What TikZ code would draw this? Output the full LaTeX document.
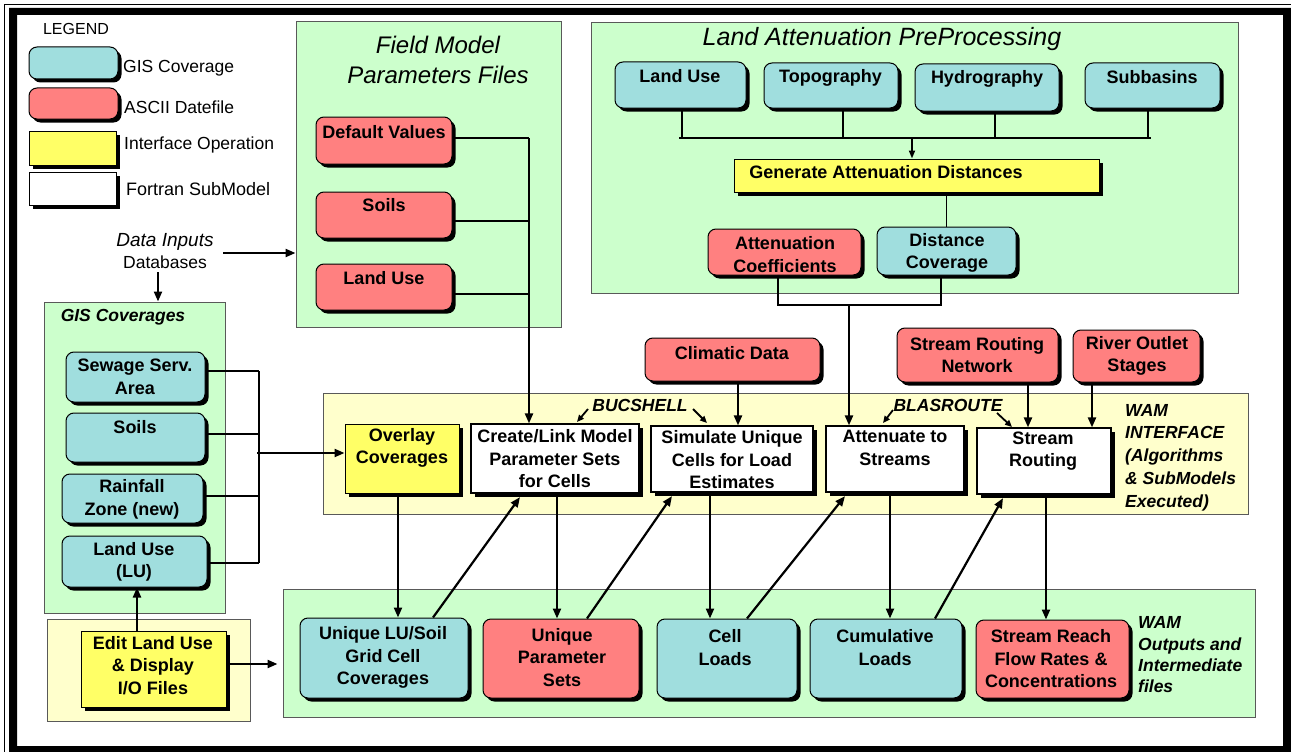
\documentclass[tikz,border=0pt]{standalone}
\usepackage{fontspec}
\setmainfont{Liberation Sans}
\usetikzlibrary{arrows.meta,shadows}
\definecolor{gisc}{RGB}{160,222,222}
\definecolor{asciic}{RGB}{255,128,128}
\definecolor{ifacec}{RGB}{255,255,102}
\definecolor{grpg}{RGB}{204,255,204}
\definecolor{grpy}{RGB}{255,255,204}
\newcommand\nf{\fontsize{18}{22.5}\selectfont\bfseries}
\newcommand\bif{\fontsize{17.5}{22.5}\selectfont\bfseries\itshape}
\tikzset{
 shad/.style={drop shadow={shadow xshift=3.5pt,shadow yshift=-3.5pt,opacity=1,fill=black}},
 gisbox/.style={draw=black,line width=1pt,fill=gisc,rounded corners=8pt,shad,inner sep=0},
 ascbox/.style={draw=black,line width=1pt,fill=asciic,rounded corners=8pt,shad,inner sep=0},
 ifbox/.style={draw=black,line width=1pt,fill=ifacec,shad,inner sep=0},
 fbox/.style={draw=black,line width=1.2pt,fill=white,shad,inner sep=0},
 grp/.style={draw=black!65,line width=1pt,fill=grpg,inner sep=0},
 grpyel/.style={draw=black!65,line width=1pt,fill=grpy,inner sep=0},
 txt/.style={font=\nf,align=center,inner sep=0},
 lt/.style={font=\fontsize{17.5}{21}\selectfont,anchor=west,inner sep=0},
 conn/.style={line width=1.2pt},
 arr/.style={line width=2.2pt,-{Triangle[length=10pt,width=8pt]}},
 sarr/.style={line width=1.8pt,-{Triangle[length=7pt,width=6pt]}},
 sz/.style 2 args={minimum width=#1pt,minimum height=#2pt},
}
\begin{document}
\begin{tikzpicture}[x=1pt,y=-1pt]
\useasboundingbox (0,0) rectangle (1291,752);
\clip (0,0) rectangle (1291,752);
\fill[white] (0,0) rectangle (1291,752);
\draw[line width=1.4pt] (4.6,760) -- (4.6,4.6) -- (1300,4.6);
\fill[black,even odd rule] (9,8) rectangle (1291,752) (17,15) rectangle (1283,746);

% ---------- legend
\node[font=\fontsize{16}{19}\selectfont,inner sep=0] (leg) at (76,29) {LEGEND};
\node[gisbox,sz={89}{32}] (lg1) at (73.5,63) {};
\node[lt] (lg1t) at (123,68) {GIS Coverage};
\node[ascbox,sz={89}{31}] (lg2) at (73.5,103.5) {};
\node[lt] (lg2t) at (124,107) {ASCII Datefile};
\node[ifbox,sz={87}{34}] (lg3) at (72.5,148) {};
\node[lt] (lg3t) at (124,145) {Interface Operation};
\node[fbox,line width=1pt,sz={87}{33}] (lg4) at (72.5,188.5) {};
\node[lt,font=\fontsize{18}{21}\selectfont] (lg4t) at (126,189) {Fortran SubModel};

% ---------- groups
\node[grp,sz={265}{305}] (fm) at (428.5,174.5) {};
\node[grp,sz={647}{270}] (la) at (914.5,158) {};
\node[grp,sz={181}{311}] (gis) at (134.5,457.5) {};
\node[grpyel,sz={925}{121}] (wi) at (785.5,453.5) {};
\node[grp,sz={972}{128}] (outg) at (769,653) {};
\node[grpyel,sz={203}{102}] (edg) at (148.5,670) {};

% ---------- field model
\node[font=\fontsize{24}{30}\selectfont\itshape,align=center,inner sep=0] (fmt) at (438,60) {Field Model\\Parameters Files};
\node[ascbox,sz={136}{47}] (dv) at (384,140.5) {};
\node[txt] (dvt) at (384,132) {Default Values};
\node[ascbox,sz={136}{46}] (fsoil) at (384,215) {};
\node[txt] (fsoilt) at (384,205) {Soils};
\node[ascbox,sz={136}{46}] (flu) at (384,287) {};
\node[txt] (flut) at (384,278) {Land Use};

% ---------- data inputs
\node[font=\fontsize{17.5}{22}\selectfont,align=center,inner sep=0] (din) at (165,251) {{\fontsize{19}{22}\selectfont\itshape Data Inputs}\\Databases};

% ---------- GIS coverages
\node[font=\bif,inner sep=0] (gist) at (123,317) {GIS Coverages};
\node[gisbox,sz={139}{50}] (sew) at (135.5,377) {};
\node[txt] (sewt) at (135,377) {Sewage Serv.\\Area};
\node[gisbox,sz={139}{49}] (gsoil) at (135.5,437.5) {};
\node[txt] (gsoilt) at (135,427) {Soils};
\node[gisbox,sz={141}{49}] (rain) at (132.5,498.5) {};
\node[txt] (raint) at (132,499.5) {Rainfall\\Zone (new)};
\node[gisbox,sz={145}{51}] (glu) at (134.5,561.5) {};
\node[txt] (glut) at (134,562) {Land Use\\(LU)};

% ---------- edit
\node[ifbox,sz={145}{76}] (edit) at (153.5,669) {};
\node[txt] (editt) at (153,665.5) {Edit Land Use\\\& Display\\I/O Files};

% ---------- land attenuation
\node[font=\fontsize{25}{30}\selectfont\itshape,inner sep=0] (lat) at (882,39) {Land Attenuation PreProcessing};
\node[gisbox,sz={131}{46}] (alu) at (680.5,85) {};
\node[txt] (alut) at (680,76) {Land Use};
\node[gisbox,sz={134}{45}] (topo) at (831,85.5) {};
\node[txt] (topot) at (830.5,78) {Topography};
\node[gisbox,sz={144}{47}] (hydro) at (987,87.5) {};
\node[txt] (hydrot) at (987,79) {Hydrography};
\node[gisbox,sz={135}{45}] (sub) at (1152.5,85.5) {};
\node[txt] (subt) at (1152,77) {Subbasins};
\node[ifbox,sz={365}{33}] (gen) at (916.5,175.5) {};
\node[txt] (gent) at (886,172) {Generate Attenuation Distances};
\node[ascbox,sz={153}{46}] (acoef) at (784.5,252) {};
\node[txt] (acoeft) at (785,254.5) {Attenuation\\Coefficients};
\node[gisbox,sz={139}{48}] (dcov) at (946.5,251) {};
\node[txt] (dcovt) at (947,253) {Distance\\Coverage};

% ---------- inputs above interface
\node[ascbox,sz={175}{43}] (clim) at (732.5,359.5) {};
\node[txt] (climt) at (732,353) {Climatic Data};
\node[ascbox,sz={161}{54}] (srn) at (977.5,355) {};
\node[txt] (srnt) at (977,355) {Stream Routing\\Network};
\node[ascbox,sz={127}{52}] (riv) at (1136.5,356) {};
\node[txt] (rivt) at (1137,356) {River Outlet\\Stages};

% ---------- WAM interface
\node[ifbox,sz={114}{69}] (ov) at (402,458.5) {};
\node[txt] (ovt) at (402,448) {Overlay\\Coverages};
\node[fbox,sz={168}{69}] (create) at (555,458.5) {};
\node[txt] (createt) at (555,459) {Create/Link Model\\Parameter Sets\\for Cells};
\node[fbox,sz={162}{66}] (sim) at (732,459) {};
\node[txt] (simt) at (732,460) {Simulate Unique\\Cells for Load\\Estimates};
\node[fbox,sz={138}{66}] (att) at (895,459) {};
\node[txt] (attt) at (895,448) {Attenuate to\\Streams};
\node[fbox,sz={134}{66}] (sr) at (1044,461) {};
\node[txt] (srt) at (1043,451) {Stream\\Routing};
\node[font=\bif,inner sep=0] (bucs) at (640,405) {BUCSHELL};
\node[font=\bif,inner sep=0] (blas) at (948,405) {BLASROUTE};
\node[font=\fontsize{17.5}{22.75}\selectfont\bfseries\itshape,align=left,anchor=west,inner sep=0] (wamt) at (1125,457.5) {WAM\\INTERFACE\\(Algorithms\\\& SubModels\\Executed)};

% ---------- outputs
\node[gisbox,sz={168}{80}] (ulu) at (384,658) {};
\node[txt] (ulut) at (383,657.5) {Unique LU/Soil\\Grid Cell\\Coverages};
\node[ascbox,sz={156}{79}] (ups) at (561,658.5) {};
\node[txt] (upst) at (562,657.5) {Unique\\Parameter\\Sets};
\node[gisbox,sz={140}{79}] (cl) at (727,658.5) {};
\node[txt] (clt) at (725,647.5) {Cell\\Loads};
\node[gisbox,sz={152}{79}] (cumu) at (886,658.5) {};
\node[txt] (cumut) at (885,647.5) {Cumulative\\Loads};
\node[ascbox,sz={153}{78}] (srf) at (1052.5,659) {};
\node[txt] (srft) at (1051,659) {Stream Reach\\Flow Rates \&\\Concentrations};
\node[font=\fontsize{17.5}{21.3}\selectfont\bfseries\itshape,align=left,anchor=west,inner sep=0] (wamo) at (1138,655) {WAM\\Outputs and\\Intermediate\\files};

% ---------- connectors: field model
\coordinate (fbt) at (529,138);
\draw[conn] ([yshift=2.5pt]dv.east) -- (fbt);
\draw[conn] ([yshift=-6pt]fsoil.east) -- ++(77,0);
\draw[conn] ([yshift=-7pt]flu.east) -- ++(77,0);
\draw[arr] (fbt) -- (fbt |- create.north);

% data inputs
\coordinate (dia) at (223,253);
\draw[arr] (dia) -- (dia -| fm.west);
\coordinate (dib) at (158,272);
\draw[arr] (dib) -- (dib |- gis.north);

% GIS bus
\coordinate (gbt) at (259,371);
\coordinate (gbb) at (259,563);
\draw[conn] ([yshift=6pt]sew.east) -- (gbt);
\draw[conn] ([yshift=3.5pt]gsoil.east) -- ++(54,0);
\draw[conn] ([yshift=2.5pt]rain.east) -- ++(56,0);
\draw[conn] ([yshift=-1.5pt]glu.east) -- (gbb);
\draw[conn] (gbt) -- (gbb);
\coordinate (gbm) at (257,453);
\draw[arr] (gbm) -- (gbm -| ov.west);

% edit
\draw[arr] ([xshift=-16.5pt]edit.north) -- ([xshift=-16.5pt]edit.north |- glu.south);
\draw[arr] ([yshift=5pt]edit.east) -- ++(51,0);

% land attenuation
\coordinate (lab) at (679,138);
\coordinate (lae) at (1151,138);
\draw[conn] ([xshift=1.5pt]alu.south) -- ([xshift=1.5pt]alu.south |- lab);
\draw[conn] ([xshift=12pt]topo.south) -- ([xshift=12pt]topo.south |- lab);
\draw[conn] ([xshift=8pt]hydro.south) -- ([xshift=8pt]hydro.south |- lab);
\draw[conn] ([xshift=-4.5pt]sub.south) -- ([xshift=-4.5pt]sub.south |- lab);
\draw[conn] (lab) -- (lae);
\coordinate (lam) at (912,137);
\draw[line width=1.8pt,-{Triangle[length=8pt,width=6pt]}] (lam) -- (lam |- gen.north);
\draw[conn] (dcov.north |- gen.south) -- (dcov.north);
\coordinate (abl) at (778,305);
\coordinate (abr) at (941,305);
\draw[conn] ([xshift=-6.5pt]acoef.south) -- (abl) -- (abr) -- ([xshift=-5.5pt]dcov.south);
\coordinate (abm) at (849,305);
\draw[arr] (abm) -- (abm |- att.north);

% inputs to interface
\draw[arr] ([xshift=5.5pt]clim.south) -- ([xshift=5.5pt]clim.south |- sim.north);
\draw[arr] ([xshift=50.5pt]srn.south) -- ([xshift=50.5pt]srn.south |- sr.north);
\draw[arr] ([xshift=-44.5pt]riv.south) -- ([xshift=-44.5pt]riv.south |- sr.north);

% label arrows
\coordinate (b1s) at (588,409); \coordinate (b1e) at (577,422);
\coordinate (b2s) at (693,409); \coordinate (b2e) at (707,423);
\coordinate (c1s) at (893,410); \coordinate (c1e) at (883,423);
\coordinate (c2s) at (997,413); \coordinate (c2e) at (1012,427);
\draw[sarr] (b1s) -- (b1e);
\draw[sarr] (b2s) -- (b2e);
\draw[sarr] (c1s) -- (c1e);
\draw[sarr] (c2s) -- (c2e);

% interface <-> outputs
\draw[arr] ([xshift=-4pt]ov.south) -- ([xshift=-4pt]ov.south |- ulu.north);
\draw[arr] ([xshift=49pt]ulu.north) -- ([xshift=-35pt,yshift=-3.5pt]create.south);
\draw[arr] ([xshift=2pt]create.south) -- ([xshift=2pt]create.south |- ups.north);
\draw[arr] ([xshift=26pt]ups.north) -- ([xshift=-60pt,yshift=-3.5pt]sim.south);
\draw[arr] ([xshift=-22pt]sim.south) -- ([xshift=-22pt]sim.south |- cl.north);
\draw[arr] ([xshift=20pt]cl.north) -- ([xshift=-50pt,yshift=-3.5pt]att.south);
\draw[arr] ([xshift=-5pt]att.south) -- ([xshift=-5pt]att.south |- cumu.north);
\draw[arr] ([xshift=49pt]cumu.north) -- ([xshift=-41pt,yshift=-3.5pt]sr.south);
\draw[arr] ([xshift=2pt]sr.south) -- ([xshift=2pt]sr.south |- srf.north);
\end{tikzpicture}
\end{document}
